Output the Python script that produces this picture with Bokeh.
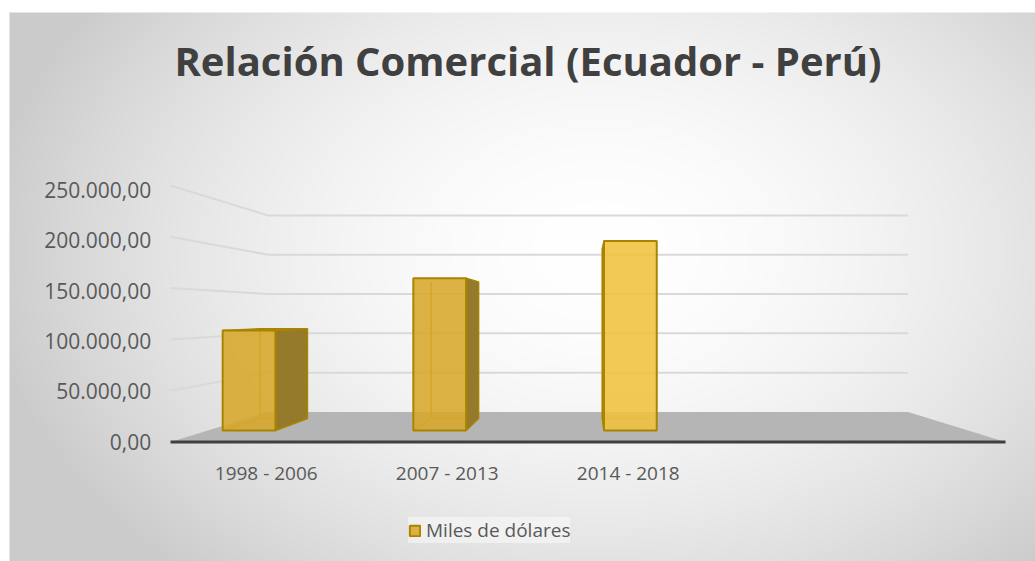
import numpy as np
from bokeh.plotting import figure
from bokeh.models import Range1d, Legend, LegendItem, Label, ColumnDataSource
from bokeh.core.properties import value
from bokeh.embed import file_html
from bokeh.resources import INLINE

# ---------------- data ----------------
title_text = "Relación Comercial (Ecuador - Perú)"
categories = ["1998 - 2006", "2007 - 2013", "2014 - 2018"]
series_name = "Miles de dólares"
values = [107000, 163000, 203000]
tick_values = [0, 50000, 100000, 150000, 200000, 250000]
tick_labels = ["0,00", "50.000,00", "100.000,00", "150.000,00", "200.000,00", "250.000,00"]

# ---------------- geometry / style ----------------
W, H = 1035, 561
X0, X1 = -1.02625, 3.91408
Y0, Y1 = -116477, 430330
XL, XR = -0.2148, 3.771        # floor front edge (front plane, data units)
XC, VC = 1.7804, 125244        # vanishing point
S_WALL = 0.766                 # back wall depth scale
S_BF, S_BB = 0.91, 0.817       # bar front / back depth scale
S_LAB = 0.864                  # category label depth scale
S_TICK = 0.984
HW = 0.1384                    # bar half width

FONT = "Open Sans"
TXT = "#595959"


def proj(x, v, s):
    return XC + s * (x - XC), VC + s * (v - VC)


p = figure(width=W, height=H, x_range=Range1d(X0, X1), y_range=Range1d(Y0, Y1),
           x_axis_type=None, y_axis_type=None, toolbar_location=None,
           output_backend="svg", min_border=0, outline_line_color=None,
           background_fill_color="white", border_fill_color="white")
p.grid.visible = False

# ---------------- background radial gradient ----------------
nx, ny = 1026, 549
px = 9 + np.arange(nx) + 0.5
py = 561 - np.arange(ny) - 0.5
PX, PY = np.meshgrid(px, py)
t = np.sqrt(((PX - 600) / 620.0) ** 2 + ((PY - 250) / 440.0) ** 2)
g = 255 - 52 * np.clip(t, 0, 1) ** 1.8
img = np.empty((ny, nx), dtype=np.uint32)
view = img.view(dtype=np.uint8).reshape((ny, nx, 4))
view[:, :, 0] = g.astype(np.uint8)
view[:, :, 1] = g.astype(np.uint8)
view[:, :, 2] = g.astype(np.uint8)
view[:, :, 3] = 255
bx0 = X0 + 9 / W * (X1 - X0)
by1 = Y1 - 12 / H * (Y1 - Y0)
p.image_rgba(image=[img], x=bx0, y=Y0, dw=X1 - bx0, dh=by1 - Y0)

# ---------------- walls / gridlines ----------------
gx, gy = [], []
for v in tick_values[1:]:
    bl = proj(XL, v, S_WALL)
    br = proj(XR, v, S_WALL)
    gx.append([XL, bl[0], br[0]])
    gy.append([v, bl[1], br[1]])
p.multi_line(gx, gy, line_color="#d9d9d9", line_width=2)

# floor
fbl = proj(XL, 0, S_WALL)
fbr = proj(XR, 0, S_WALL)
p.patch([XL, XR, fbr[0], fbl[0]], [0, 0, fbr[1], fbl[1]], fill_color="#b5b5b5",
        line_color=None)
p.line([XL, XR], [0, 0], line_color="#404040", line_width=3)

# ---------------- bars ----------------
front_cols = ["#d8a72b", "#d8a72b", "#f1c23f"]
side_col = "#957a2b"
top_col = "#c39522"
edge_col = "#a88400"
inner_col = "#c0940c"

ex, ey = [], []
sx, sy, sc = [], [], []
fx, fy, fc = [], [], []
for i, v in enumerate(values):
    xl, xr = i - HW, i + HW
    Fbl, Fbr, Ftr, Ftl = proj(xl, 0, S_BF), proj(xr, 0, S_BF), proj(xr, v, S_BF), proj(xl, v, S_BF)
    Bbl, Bbr, Btr, Btl = proj(xl, 0, S_BB), proj(xr, 0, S_BB), proj(xr, v, S_BB), proj(xl, v, S_BB)
    ex.append([Btl[0], Bbl[0], Bbr[0]]); ey.append([Btl[1], Bbl[1], Bbr[1]])
    ex.append([Fbl[0], Bbl[0]]); ey.append([Fbl[1], Bbl[1]])
    if Bbr[0] > Fbr[0]:
        sx.append([Fbr[0], Bbr[0], Btr[0], Ftr[0]]); sy.append([Fbr[1], Bbr[1], Btr[1], Ftr[1]]); sc.append(side_col)
    if Bbl[0] < Fbl[0]:
        sx.append([Fbl[0], Bbl[0], Btl[0], Ftl[0]]); sy.append([Fbl[1], Bbl[1], Btl[1], Ftl[1]]); sc.append(side_col)
    if v < VC:
        sx.append([Ftl[0], Ftr[0], Btr[0], Btl[0]]); sy.append([Ftl[1], Ftr[1], Btr[1], Btl[1]]); sc.append(top_col)
    fx.append([Fbl[0], Fbr[0], Ftr[0], Ftl[0]]); fy.append([Fbl[1], Fbr[1], Ftr[1], Ftl[1]]); fc.append(front_cols[i])

p.multi_line(ex, ey, line_color=inner_col, line_width=1.5)
p.patches(xs="xs", ys="ys", fill_color="c", line_color=edge_col, line_width=1.5,
          source=ColumnDataSource(dict(xs=sx, ys=sy, c=sc)))
front_r = p.patches(xs="xs", ys="ys", fill_color="c", fill_alpha=0.88, line_color=edge_col, line_width=2,
                    source=ColumnDataSource(dict(xs=fx, ys=fy, c=fc)))

# ---------------- axis labels ----------------
tl = [proj(XL, v, S_TICK) for v in tick_values]
p.text(x=[q[0] for q in tl], y=[q[1] for q in tl], text=tick_labels, x_offset=-26, y_offset=2,
       text_align="right", text_baseline="middle", text_font=value(FONT),
       text_font_size="21px", text_color=TXT)

cl = [proj(i, 0, S_LAB) for i in range(len(categories))]
p.text(x=[q[0] for q in cl], y=[0] * len(categories), text=categories, y_offset=31,
       text_align="center", text_baseline="middle", text_font=value(FONT),
       text_font_size="19px", text_color=TXT)

# ---------------- title ----------------
p.add_layout(Label(x=527.5, y=H - 60, x_units="screen", y_units="screen", text=title_text,
                   text_align="center", text_baseline="alphabetic", text_font=FONT,
                   text_font_size="40px", text_font_style="bold", text_color="#404040"))

# ---------------- legend ----------------
legend = Legend(items=[LegendItem(label=series_name, renderers=[front_r], index=0)], location=(408, 18),
                orientation="horizontal", background_fill_color="#f8f8f8", background_fill_alpha=0.6,
                border_line_color=None, label_text_font=FONT, label_text_font_size="19px",
                label_text_color=TXT, glyph_width=13, glyph_height=13, label_standoff=5,
                padding=18, margin=0, label_height=20)
p.add_layout(legend)

open("out.html", "w").write(file_html(p, INLINE))
